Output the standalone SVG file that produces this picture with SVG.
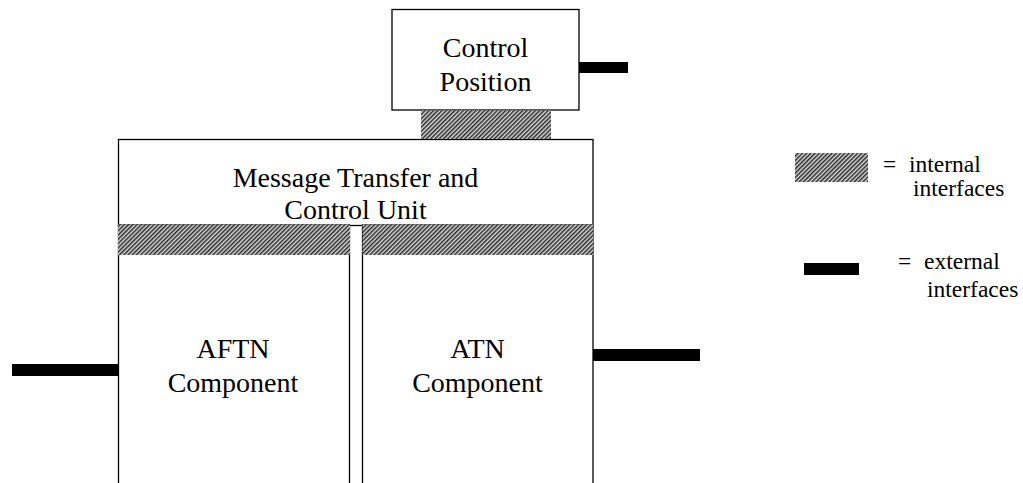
<svg xmlns="http://www.w3.org/2000/svg" width="1023" height="483" viewBox="0 0 1023 483">
<style>
.box{fill:#fff;stroke:#000;stroke-width:1.3}
.hatch{fill:url(#hatch);stroke:none}
.ext{fill:#000;stroke:none}
text{font-family:"Liberation Serif","Times New Roman",serif;font-size:28px;fill:#000}
.c{text-anchor:middle}
.lg{font-size:23.5px}
</style>
<defs>
<pattern id="hatch" patternUnits="userSpaceOnUse" width="3" height="3" patternTransform="rotate(45)">
<rect width="3" height="3" fill="#d8d8d8"/>
<rect width="1.5" height="3" fill="#2a2a2a"/>
</pattern>
</defs>
<rect width="1023" height="483" fill="#fff"/>
<g id="control-position">
<rect class="box" x="392" y="9.5" width="187" height="100.5"/>
<text class="c" x="485.5" y="57">Control</text>
<text class="c" x="485.5" y="91">Position</text>
</g>
<g id="mtcu">
<rect class="box" x="118.5" y="139.5" width="474.5" height="86"/>
<text class="c" x="355.5" y="187">Message Transfer and</text>
<text class="c" x="355.5" y="219">Control Unit</text>
</g>
<g id="aftn">
<rect class="box" x="118.5" y="225" width="231" height="270"/>
<text class="c" x="233" y="358">AFTN</text>
<text class="c" x="233" y="392">Component</text>
</g>
<g id="atn">
<rect class="box" x="362.5" y="225" width="230.5" height="270"/>
<text class="c" x="477.5" y="358">ATN</text>
<text class="c" x="477.5" y="392">Component</text>
</g>
<g id="connectors">
<rect class="hatch" x="421" y="110.5" width="130" height="28.5"/>
<rect class="hatch" x="118" y="224.5" width="232" height="30.5"/>
<rect class="hatch" x="362.5" y="224.5" width="231" height="30.5"/>
<rect class="ext" x="579" y="62" width="49" height="11"/>
<rect class="ext" x="12" y="364" width="106" height="12"/>
<rect class="ext" x="593" y="349" width="107" height="12"/>
</g>
<g id="legend">
<rect class="hatch" x="795" y="153" width="73" height="29"/>
<text class="lg" x="883" y="172">=</text>
<text class="lg" x="909" y="172">internal</text>
<text class="lg" x="913" y="196">interfaces</text>
<rect class="ext" x="804" y="263" width="55" height="12"/>
<text class="lg" x="898" y="269">=</text>
<text class="lg" x="924" y="269">external</text>
<text class="lg" x="927" y="297">interfaces</text>
</g>
</svg>
